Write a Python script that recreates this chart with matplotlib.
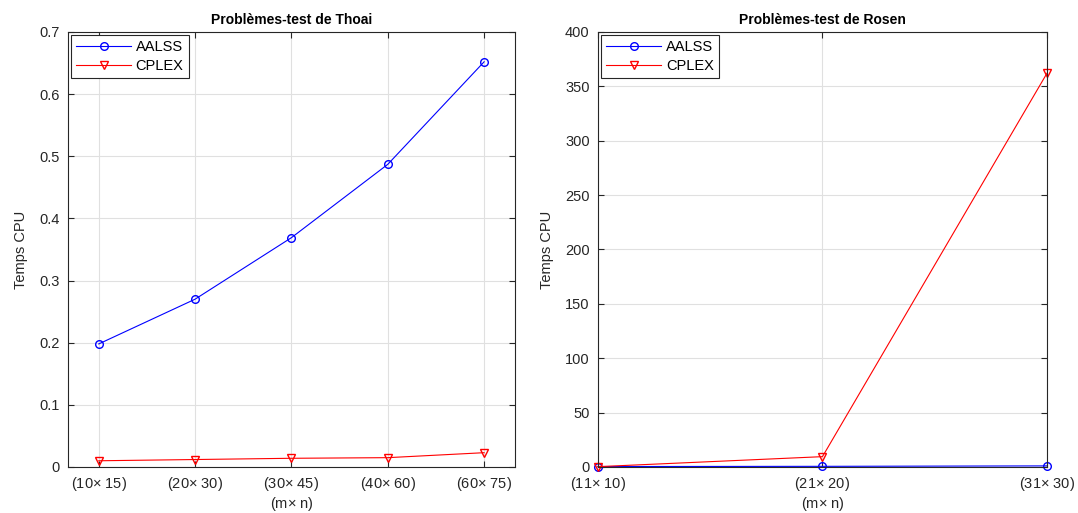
import matplotlib.pyplot as plt
from matplotlib.ticker import FuncFormatter

# Thoai test problems
thoai_labels = ['(10$\\times$ 15)', '(20$\\times$ 30)', '(30$\\times$ 45)', '(40$\\times$ 60)', '(60$\\times$ 75)']
thoai_aalss = [0.198, 0.270, 0.369, 0.487, 0.652]
thoai_cplex = [0.010, 0.012, 0.014, 0.015, 0.023]

# Rosen test problems
rosen_labels = ['(11$\\times$ 10)', '(21$\\times$ 20)', '(31$\\times$ 30)']
rosen_aalss = [0.4, 0.6, 1.0]
rosen_cplex = [0.3, 9.5, 362.0]

plt.rcParams['font.family'] = ['Liberation Sans', 'DejaVu Sans']
plt.rcParams['mathtext.fontset'] = 'custom'
plt.rcParams['mathtext.rm'] = 'Liberation Sans'
plt.rcParams['font.size'] = 10.5

fig = plt.figure(figsize=(10.78, 5.13), dpi=100)
ax1 = fig.add_axes([0.063, 0.0897, 0.4147, 0.848])
ax2 = fig.add_axes([0.5547, 0.0897, 0.4165, 0.848])


def style(ax):
    ax.grid(True, color='#e0e0e0', linewidth=0.8)
    ax.set_axisbelow(True)
    ax.tick_params(direction='in', top=True, right=True, length=4, colors='#262626',
                   labelcolor='#262626', pad=6)
    ax.yaxis.set_major_formatter(FuncFormatter(lambda v, p: '%g' % round(v, 6)))
    for s in ax.spines.values():
        s.set_color('#262626')
        s.set_linewidth(0.8)
    ax.set_xlabel('(m$\\times$ n)', color='#262626', labelpad=1)
    ax.set_ylabel('Temps CPU', color='#262626', labelpad=8)
    leg = ax.legend(loc='upper left', fancybox=False, edgecolor='#262626',
                    framealpha=1, borderaxespad=0.2, handlelength=3.8,
                    borderpad=0.35, labelspacing=0.35, handletextpad=0.3)
    leg.get_frame().set_linewidth(0.8)


x1 = list(range(1, len(thoai_labels) + 1))
ax1.plot(x1, thoai_aalss, 'b-o', mfc='none', lw=0.8, ms=5.5, label='AALSS')
ax1.plot(x1, thoai_cplex, 'r-v', mfc='none', lw=0.8, ms=5.5, label='CPLEX')
ax1.set_xlim(0.68, 5.32)
ax1.set_ylim(0, 0.7)
ax1.set_xticks(x1)
ax1.set_xticklabels(thoai_labels)
ax1.set_title('Problèmes-test de Thoai', fontweight='bold', fontsize=10)
style(ax1)

x2 = list(range(1, len(rosen_labels) + 1))
ax2.plot(x2, rosen_aalss, 'b-o', mfc='none', lw=0.8, ms=5.5, label='AALSS', clip_on=False)
ax2.plot(x2, rosen_cplex, 'r-v', mfc='none', lw=0.8, ms=5.5, label='CPLEX', clip_on=False)
ax2.set_xlim(1, 3)
ax2.set_ylim(0, 400)
ax2.set_xticks(x2)
ax2.set_xticklabels(rosen_labels)
ax2.set_title('Problèmes-test de Rosen', fontweight='bold', fontsize=10)
style(ax2)

fig.savefig('out.png', dpi=100)
